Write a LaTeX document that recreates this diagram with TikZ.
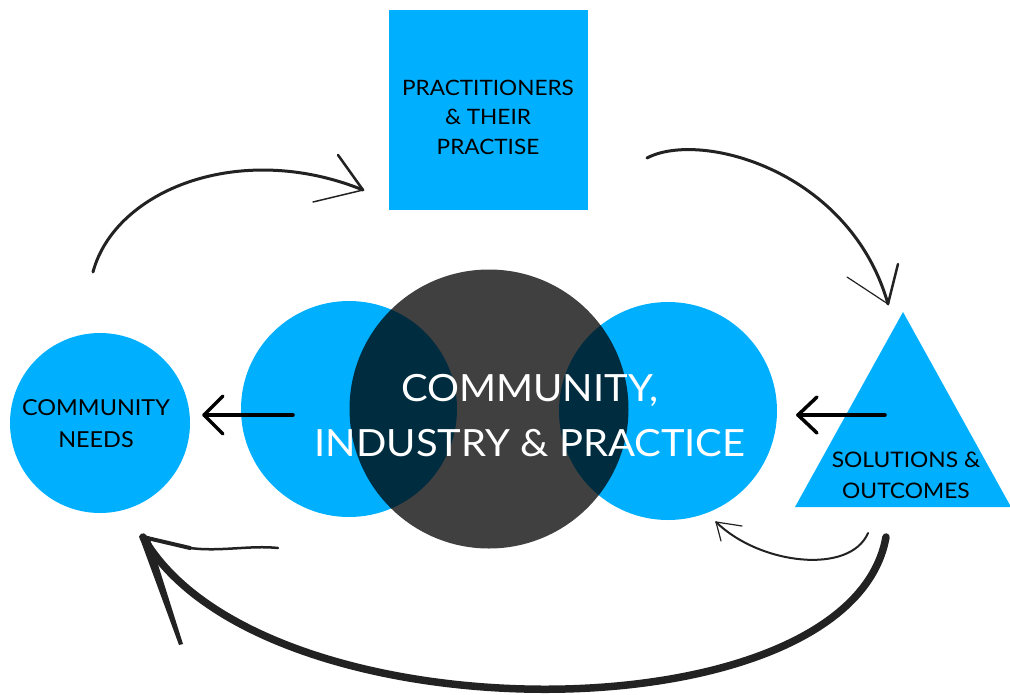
\documentclass[tikz,border=0pt]{standalone}
\usepackage{fontspec}
\setmainfont{Lato}[FakeStretch=1.065]
\definecolor{skyb}{RGB}{0,176,255}
\definecolor{ink}{RGB}{34,34,34}
\begin{document}
\begin{tikzpicture}[x=1pt,y=-1pt,
  blob/.style={circle,fill=skyb,draw=none,inner sep=0pt},
  lbl/.style={text=black,align=center,inner sep=0pt},
  sketch/.style={draw=ink,line cap=round,line join=round},
  straightarr/.style={draw=black,line width=3.5pt,line cap=round,line join=round}]
\useasboundingbox (0,0) rectangle (1010,694);
% square
\node[fill=skyb,minimum width=199pt,minimum height=200pt,inner sep=0pt] (sq) at (488.5,110) {};
\node[lbl,font=\fontsize{21.2}{29.5}\selectfont] (sqt) at (488,117) {PRACTITIONERS\\\& THEIR\\PRACTISE};
% left needs circle
\node[blob,minimum size=180pt] (needs) at (100,423) {};
\node[lbl,font=\fontsize{22}{32}\selectfont] (needst) at (96,424) {COMMUNITY\\NEEDS};
% venn
\node[blob,minimum size=216pt] (lc) at (349,409) {};
\node[blob,minimum size=218pt] (rc) at (668,411) {};
\node[circle,fill=black,fill opacity=0.75,minimum size=279pt,inner sep=0pt] (dc) at (489,409) {};
\node[text=white,align=center,inner sep=0pt,font=\fontsize{37.5}{55}\selectfont] (ct) at (530,416) {COMMUNITY,\\INDUSTRY \& PRACTICE};
% triangle
\coordinate (ta) at (903,312);
\coordinate (tl) at (795,507);
\coordinate (tr) at (1011,507);
\fill[skyb] (ta) -- (tl) -- (tr) -- cycle;
\node[lbl,font=\fontsize{21.4}{31}\selectfont] (trit) at (906,475) {SOLUTIONS \&\\OUTCOMES};
% straight arrows
\coordinate (a1s) at (293,415); \coordinate (a1t) at (204,415);
\draw[straightarr] (a1s) -- (a1t);
\draw[straightarr] (223,396) -- (a1t) -- (223,434);
\coordinate (a2s) at (885,415); \coordinate (a2t) at (798,415);
\draw[straightarr] (a2s) -- (a2t);
\draw[straightarr] (817,397) -- (a2t) -- (817,433);
% top-left curved arrow
\coordinate (c1s) at (93,272); \coordinate (c1t) at (363,190);
\draw[sketch,line width=3pt] (c1s) .. controls (115,190) and (240,140) .. (c1t);
\draw[sketch,line width=2.5pt] (338,155) -- (c1t);
\draw[sketch,line width=1.5pt] (313,202) -- (c1t);
% top-right curved arrow
\coordinate (c2s) at (647,158); \coordinate (c2t) at (888,304);
\draw[sketch,line width=3pt] (c2s) .. controls (700,130) and (850,170) .. (c2t);
\draw[sketch,line width=2.5pt] (898,264) -- (c2t);
\draw[sketch,line width=1.2pt] (847,277) -- (c2t);
% small bottom arrow
\coordinate (c3s) at (868,533); \coordinate (c3t) at (716,522);
\draw[sketch,line width=2pt] (c3s) .. controls (850,575) and (760,565) .. (c3t);
\draw[sketch,line width=1.2pt] (742,526) -- (c3t) -- (721,541);
% big bottom arrow
\coordinate (c4s) at (886,537); \coordinate (c4t) at (143,537);
\draw[sketch,line width=7.5pt] (c4s) .. controls (850,740) and (260,740) .. (c4t);
\fill[ink] (139,536) -- (149,536) -- (183,644) -- (179,645) -- cycle;
\draw[sketch,line width=4pt] (c4t) -- (190,548);
\draw[sketch,line width=2.5pt] (190,548) .. controls (220,552) and (250,545) .. (278,548);
\end{tikzpicture}
\end{document}
